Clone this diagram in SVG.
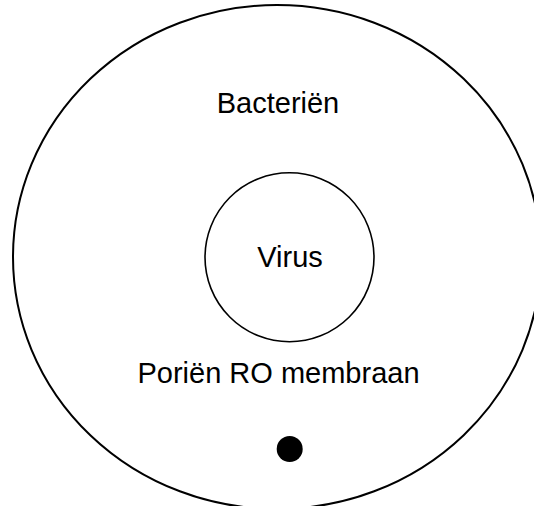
<svg xmlns="http://www.w3.org/2000/svg" width="534" height="506" viewBox="0 0 534 506">
<style>
  .lbl { font-family: "Liberation Sans", Arial, sans-serif; font-size: 29px; fill: #000; text-anchor: middle; }
  .outline { fill: none; stroke: #000; }
</style>
<rect x="0" y="0" width="534" height="506" fill="#fff"/>
<g id="bacterien">
  <ellipse class="outline" cx="277" cy="257" rx="264" ry="252" stroke-width="2"/>
  <text class="lbl" x="278" y="113">Bacteriën</text>
</g>
<g id="virus">
  <circle class="outline" cx="289.5" cy="257.3" r="84.5" stroke-width="1.6"/>
  <text class="lbl" x="290" y="267">Virus</text>
</g>
<g id="porien">
  <text class="lbl" x="278.5" y="383">Poriën RO membraan</text>
  <circle cx="289.7" cy="449" r="13" fill="#000"/>
</g>
<g id="connectors"></g>
</svg>
